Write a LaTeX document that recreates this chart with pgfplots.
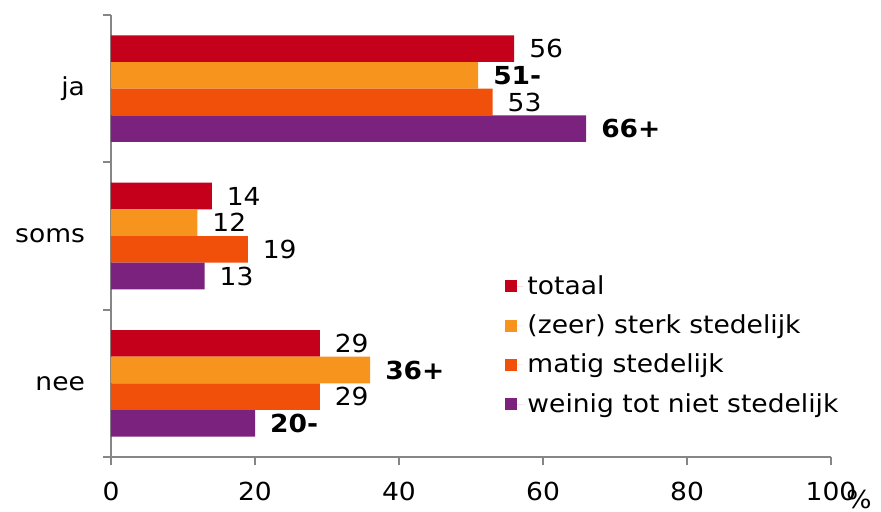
\documentclass[border=0pt]{standalone}
\usepackage{pgfplots}
\pgfplotsset{compat=1.18}
\usepackage{fontspec}
\setmainfont{DejaVu Sans}[FakeStretch=1.07]

\definecolor{cTot}{RGB}{197,0,26}
\definecolor{cSterk}{RGB}{247,148,30}
\definecolor{cMatig}{RGB}{240,80,10}
\definecolor{cWeinig}{RGB}{122,34,126}
\definecolor{axgray}{RGB}{134,134,134}

\begin{document}
\begin{tikzpicture}[font=\fontsize{12.4}{14.5}\selectfont]
\useasboundingbox (-55.5pt,-27pt) rectangle (385pt,228.5pt);
\begin{axis}[
    at={(0,0)}, anchor=south west,
    scale only axis,
    width=360pt, height=221pt,
    xbar, bar width=13.3pt,
    xmin=0, xmax=100,
    ymin=-0.5, ymax=2.5,
    axis lines*=left,
    axis line style={-, axgray, line width=0.9pt},
    every tick/.style={axgray, line width=0.9pt},
    tick align=outside,
    major tick length=4pt,
    xtick={0,20,40,60,80,100},
    % boundaries between the groups carry the ticks, names sit in between
    ytick={-0.5,0.5,1.5,2.5}, yticklabels={},
    extra y ticks={0,1,2}, extra y tick labels={nee,soms,ja},
    extra y tick style={major tick length=0pt, yticklabel style={xshift=-9.5pt}},
    /pgf/number format/assume math mode=true,
    xticklabel style={yshift=-5pt},
    xlabel={\%},
    xlabel style={at={(axis description cs:1.039,-0.097)}, anchor=center},
    point meta=explicit symbolic,
    nodes near coords,
    nodes near coords style={anchor=west, xshift=4pt, text=black},
    legend cell align=left,
    legend style={draw=none, fill=none, at={(axis description cs:0.539,0.43)},
        anchor=north west, row sep=4.75pt},
    legend image code/.code={\fill[#1] (0pt,-3pt) rectangle (6pt,3pt);
        \path (0pt,0pt) -- (9pt,0pt);},
]
\addplot[fill=cTot, draw=none, bar shift=20pt]
    coordinates {(56,2) [56] (14,1) [14] (29,0) [29]};
\addlegendentry{totaal}
\addplot[fill=cSterk, draw=none, bar shift=6.67pt]
    coordinates {(51,2) [\textbf{51-}] (12,1) [12] (36,0) [\textbf{36+}]};
\addlegendentry{(zeer) sterk stedelijk}
\addplot[fill=cMatig, draw=none, bar shift=-6.67pt]
    coordinates {(53,2) [53] (19,1) [19] (29,0) [29]};
\addlegendentry{matig stedelijk}
\addplot[fill=cWeinig, draw=none, bar shift=-20pt]
    coordinates {(66,2) [\textbf{66+}] (13,1) [13] (20,0) [\textbf{20-}]};
\addlegendentry{weinig tot niet stedelijk}
\end{axis}
\end{tikzpicture}
\end{document}
